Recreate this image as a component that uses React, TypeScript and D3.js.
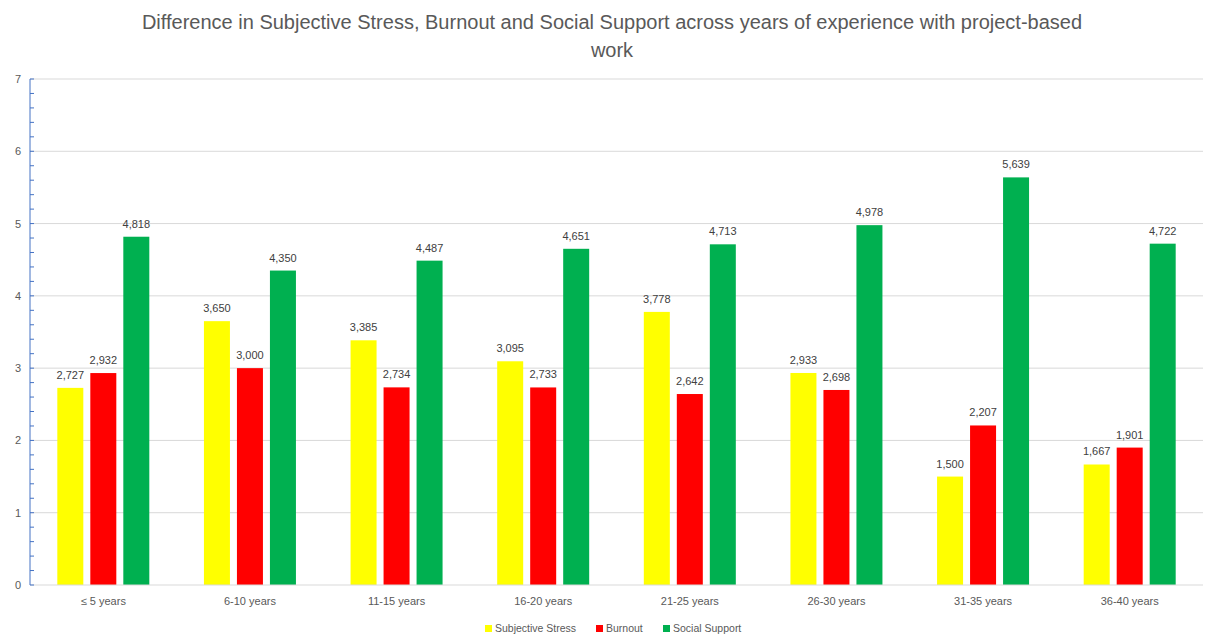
import React from "react";
import * as d3 from "d3";

const categories = ["≤ 5 years", "6-10 years", "11-15 years", "16-20 years", "21-25 years", "26-30 years", "31-35 years", "36-40 years"];
const seriesNames = ["Subjective Stress", "Burnout", "Social Support"];
const seriesColors = ["#FFFF00", "#FF0000", "#00B050"];
const subjectiveStress = [2.727, 3.65, 3.385, 3.095, 3.778, 2.933, 1.5, 1.667];
const burnout = [2.932, 3.0, 2.734, 2.733, 2.642, 2.698, 2.207, 1.901];
const socialSupport = [4.818, 4.35, 4.487, 4.651, 4.713, 4.978, 5.639, 4.722];
const yTicks = [0, 1, 2, 3, 4, 5, 6, 7];

const W = 1205, H = 639;
const left = 30, right = 1203, top = 79, bottom = 585;
const font = "'Liberation Sans', Arial, sans-serif";

export default function App() {
  const x = d3.scaleBand<string>().domain(categories).range([left, right]).paddingInner(0).paddingOuter(0);
  const y = d3.scaleLinear().domain([0, 7]).range([bottom, top]);
  const series = [subjectiveStress, burnout, socialSupport];
  const barW = 26, step = 33;
  const minor = d3.range(0, 7.0001, 0.2);
  const fmt = (v: number) => d3.format(",.3f")(v).replace(".", ",");
  return (
    <svg width={W} height={H} style={{ position: "absolute", left: 0, top: 0, background: "#fff" }}>
      <rect width={W} height={H} fill="#fff" />
      <text x={612} y={29} textAnchor="middle" fontFamily={font} fontSize={20} fill="#595959">
        Difference in Subjective Stress, Burnout and Social Support across years of experience with project-based
      </text>
      <text x={612} y={57} textAnchor="middle" fontFamily={font} fontSize={20} fill="#595959">work</text>
      {yTicks.map((t) => (
        <g key={t}>
          {t > 0 && <line x1={left} x2={right} y1={y(t)} y2={y(t)} stroke="#D9D9D9" strokeWidth={1} />}
          <text x={18} y={y(t) + 4} textAnchor="middle" fontFamily={font} fontSize={11} fill="#595959">{t}</text>
        </g>
      ))}
      {categories.map((c, i) => {
        const cx = (x(c) as number) + x.bandwidth() / 2;
        return (
          <g key={c}>
            {series.map((s, j) => {
              const bx = cx + (j - 1) * step - barW / 2;
              return (
                <g key={j}>
                  <rect x={bx} y={y(s[i])} width={barW} height={bottom - y(s[i])} fill={seriesColors[j]} />
                  <text x={bx + barW / 2} y={y(s[i]) - 9} textAnchor="middle" fontFamily={font} fontSize={11} fill="#404040">{fmt(s[i])}</text>
                </g>
              );
            })}
            <text x={cx} y={605} textAnchor="middle" fontFamily={font} fontSize={11} fill="#595959">{c}</text>
          </g>
        );
      })}
      <line x1={left} x2={right} y1={bottom} y2={bottom} stroke="#D9D9D9" strokeWidth={1} />
      <line x1={left} x2={left} y1={top} y2={bottom} stroke="#4472C4" strokeWidth={1} />
      {minor.map((m, k) => (
        <line key={k} x1={left} x2={left + 4} y1={y(m)} y2={y(m)} stroke="#4472C4" strokeWidth={1} />
      ))}
      {(() => {
        const items = [
          { name: seriesNames[0], color: seriesColors[0], x: 485 },
          { name: seriesNames[1], color: seriesColors[1], x: 596 },
          { name: seriesNames[2], color: seriesColors[2], x: 663 },
        ];
        return items.map((it) => (
          <g key={it.name}>
            <rect x={it.x} y={625} width={7} height={7} fill={it.color} />
            <text x={it.x + 10} y={632} fontFamily={font} fontSize={10.5} fill="#595959">{it.name}</text>
          </g>
        ));
      })()}
    </svg>
  );
}
